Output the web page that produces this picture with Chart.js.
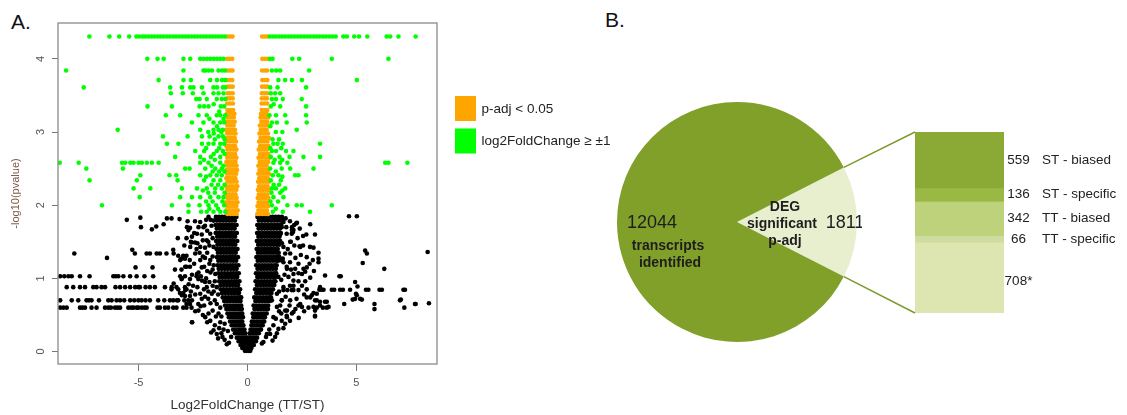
<!DOCTYPE html>
<html>
<head>
<meta charset="utf-8">
<script src="https://cdn.jsdelivr.net/npm/chart.js@4.4.0/dist/chart.umd.min.js"></script>
<style>
  body { margin: 0; background: #fff; width: 1127px; height: 415px; position: relative; overflow: hidden;
         font-family: Arial, "Liberation Sans", sans-serif; }
  canvas { position: absolute; }
  .tag { position: absolute; font-size: 21px; color: #111; line-height: 1; }
</style>
</head>
<body>
<div class="tag" style="left:11px;top:11px">A.</div>
<div class="tag" style="left:605px;top:9px">B.</div>
<canvas id="volcano" width="620" height="415" style="left:0;top:0"></canvas>
<canvas id="pie" width="262" height="250" style="left:600px;top:97px"></canvas>
<canvas id="split" width="297" height="205" style="left:830px;top:120px"></canvas>
<script>
const FONT = 'Arial, "Liberation Sans", sans-serif';
Chart.defaults.font.family = FONT;

// ---- A: volcano plot, rows of [ -log10(p), [log2FC ...] ] ----

// not significant, dense core of the volcano
const blackCore = [
  [1.84, [-1.45,-1.31,-1.17,-1.03,-0.89,-0.76,-0.63,-0.51, 0.46,0.59,0.73,0.87,1.01,1.15,1.29,1.43,1.58]],
  [1.79, [-1.4,-1.26,-1.12,-0.98,-0.84,-0.71,-0.58, 0.52,0.66,0.8,0.94,1.08,1.22,1.36,1.5,1.61]],
  [1.73, [-1.47,-1.33,-1.19,-1.05,-0.91,-0.78,-0.65,-0.5, 0.45,0.58,0.72,0.86,1.0,1.14,1.28,1.42,1.55]],
  [1.68, [-1.41,-1.27,-1.13,-0.99,-0.85,-0.72,-0.59, 0.51,0.65,0.79,0.93,1.07,1.21,1.35,1.49]],
  [1.62, [-1.46,-1.32,-1.18,-1.04,-0.9,-0.77,-0.64,-0.49, 0.44,0.57,0.71,0.85,0.99,1.13,1.27,1.41,1.53]],
  [1.57, [-1.39,-1.25,-1.11,-0.97,-0.83,-0.7,-0.57, 0.5,0.64,0.78,0.92,1.06,1.2,1.34,1.47]],
  [1.51, [-1.44,-1.3,-1.16,-1.02,-0.88,-0.75,-0.62,-0.47, 0.43,0.56,0.7,0.84,0.98,1.12,1.26,1.4,1.5]],
  [1.46, [-1.38,-1.24,-1.1,-0.96,-0.82,-0.69,-0.56, 0.49,0.63,0.77,0.91,1.05,1.19,1.33,1.45]],
  [1.40, [-1.42,-1.28,-1.14,-1.0,-0.86,-0.73,-0.6,-0.46, 0.42,0.55,0.69,0.83,0.97,1.11,1.25,1.39]],
  [1.35, [-1.36,-1.22,-1.08,-0.94,-0.8,-0.67,-0.54, 0.48,0.62,0.76,0.9,1.04,1.18,1.32,1.43]],
  [1.29, [-1.4,-1.26,-1.12,-0.98,-0.84,-0.71,-0.58,-0.44, 0.41,0.54,0.68,0.82,0.96,1.1,1.24,1.37]],
  [1.24, [-1.34,-1.2,-1.06,-0.92,-0.78,-0.65,-0.52, 0.47,0.61,0.75,0.89,1.03,1.17,1.31,1.4]],
  [1.18, [-1.37,-1.23,-1.09,-0.95,-0.81,-0.68,-0.55,-0.42, 0.4,0.53,0.67,0.81,0.95,1.09,1.23,1.34]],
  [1.13, [-1.32,-1.18,-1.04,-0.9,-0.76,-0.63,-0.5, 0.46,0.6,0.74,0.88,1.02,1.16,1.3]],
  [1.07, [-1.34,-1.2,-1.06,-0.92,-0.78,-0.65,-0.52,-0.4, 0.39,0.52,0.66,0.8,0.94,1.08,1.22,1.32]],
  [1.02, [-1.28,-1.14,-1.0,-0.86,-0.72,-0.59,-0.47, 0.45,0.59,0.73,0.87,1.01,1.15,1.27]],
  [0.96, [-1.3,-1.16,-1.02,-0.88,-0.74,-0.61,-0.49,-0.37, 0.37,0.5,0.64,0.78,0.92,1.06,1.2,1.28]],
  [0.91, [-1.24,-1.1,-0.96,-0.82,-0.68,-0.55,-0.43, 0.43,0.57,0.71,0.85,0.99,1.13,1.23]],
  [0.85, [-1.23,-1.09,-0.95,-0.81,-0.67,-0.54,-0.42,-0.34, 0.35,0.48,0.62,0.76,0.9,1.04,1.17]],
  [0.80, [-1.17,-1.03,-0.89,-0.75,-0.62,-0.5,-0.39, 0.4,0.54,0.68,0.82,0.96,1.1]],
  [0.74, [-1.14,-1.0,-0.86,-0.72,-0.59,-0.46,-0.35,-0.29, 0.31,0.44,0.58,0.72,0.86,0.99,1.08]],
  [0.69, [-1.07,-0.94,-0.81,-0.68,-0.55,-0.43,-0.32, 0.36,0.5,0.64,0.78,0.91,1.02]],
  [0.63, [-1.03,-0.9,-0.77,-0.64,-0.52,-0.4,-0.29, 0.28,0.41,0.55,0.69,0.82,0.95]],
  [0.58, [-0.97,-0.84,-0.71,-0.58,-0.46,-0.35,-0.26, 0.32,0.46,0.6,0.73,0.86,0.94]],
  [0.52, [-0.92,-0.79,-0.66,-0.54,-0.42,-0.31,-0.24, 0.24,0.37,0.51,0.64,0.77,0.88]],
  [0.47, [-0.86,-0.73,-0.61,-0.49,-0.38,-0.28,-0.21, 0.27,0.41,0.54,0.67,0.8]],
  [0.41, [-0.8,-0.67,-0.55,-0.44,-0.33,-0.24, 0.2,0.32,0.45,0.58,0.71,0.77]],
  [0.36, [-0.73,-0.61,-0.49,-0.38,-0.28,-0.19, 0.18,0.29,0.41,0.53,0.65,0.7]],
  [0.30, [-0.66,-0.54,-0.43,-0.33,-0.23,-0.14, 0.14,0.24,0.35,0.46,0.57,0.62]],
  [0.25, [-0.58,-0.47,-0.37,-0.27,-0.18,-0.1, 0.1,0.2,0.3,0.41,0.52]],
  [0.19, [-0.49,-0.39,-0.29,-0.2,-0.11,-0.03, 0.06,0.15,0.25,0.35,0.44]],
  [0.14, [-0.41,-0.31,-0.22,-0.13,-0.05, 0.04,0.13,0.22,0.32,0.39]],
  [0.09, [-0.32,-0.23,-0.14,-0.06, 0.02,0.11,0.2,0.29]],
  [0.05, [-0.24,-0.15,-0.07, 0.01,0.09,0.18]],
  [0.01, [-0.12,-0.03,0.06,0.13]]
];

// not significant, the flat bands of repeated p-values at large fold changes
const blackBands = [
  [1.03, [-8.6,-8.41,-8.22,-8.07,-7.69,-7.25,-6.16,-6.05,-5.93,-5.7,-5.39,-5.09,-4.73,-4.33,-3.09, 4.22,4.28]],
  [0.88, [-8.3,-8.0,-7.69,-7.46,-7.08,-6.93,-6.7,-6.54,-6.06,-5.85,-5.62,-5.39,-5.16,-5.01,-4.94,-4.68,-4.48,-4.25,-3.79,-3.48,-3.26,-2.87]],
  [0.845, [3.3,3.41,3.49,3.87,3.98,4.25,4.38,4.71,5.44,5.55,6.06,6.17,7.16,7.23]],
  [0.70, [-8.6,-8.07,-7.77,-7.39,-7.28,-7.16,-6.82,-6.39,-6.24,-6.01,-5.85,-5.66,-5.39,-5.2,-5.01,-4.86,-4.68,-4.48,-4.1,-3.82,-3.56,-3.41,-3.18,-2.9,-2.72]],
  [0.60, [-8.6,-8.45,-8.3,-7.69,-7.58,-7.46,-7.16,-6.93,-6.54,-6.39,-6.27,-6.08,-5.96,-5.85,-5.47,-5.34,-5.24,-5.09,-5.01,-4.86,-4.73,-4.63,-4.13,-4.02,-3.79,-3.64,-3.41,-3.26,-2.95,-2.8,-2.57]]
];

// not significant, loose points as [log2FC, -log10(p)]
const blackScatter = [
  [-7.95,1.34],[-6.45,1.28],[-5.29,1.39],[-5.17,1.34],[-4.63,1.34],[-4.48,1.34],[-4.17,1.34],[-4.02,1.34],
  [-3.72,1.34],[-3.41,1.39],[-5.14,1.15],[-4.36,1.15],[-5.54,1.8],[-4.92,1.83],[-4.89,1.7],[-4.39,1.67],
  [-4.19,1.71],[-3.85,1.74],[-3.7,1.82],[-3.12,1.81],[-3.49,1.82],[-2.75,1.78],[-2.41,1.78],[-2.64,1.69],
  [-2.57,1.49],[-2.41,1.49],[-2.34,1.4],[-3.18,1.31],[-2.95,1.31],[-2.8,1.31],[-3.03,1.27],[-2.87,1.27],
  [-3.33,1.12],[-3.03,1.12],[-2.8,1.16],[-2.64,1.16],[-3.03,0.99],[-2.64,0.99],[-2.26,0.99],[-3.49,0.85],
  [-3.18,0.85],[-2.8,0.85],[-3.1,0.8],[-2.95,0.8],[-2.87,0.76],[-2.64,0.76],[-2.54,0.4],[-2.8,0.65],
  [-2.64,0.65],[-2.26,0.65],[-2.87,1.03],[-2.34,1.03],[-2.14,1.03],
  [-2.71,1.66],[-2.55,1.57],[-2.32,1.61],[-2.17,1.77],[-2.02,1.7],[-1.87,1.52],[-2.17,1.43],[-2.4,1.34],
  [-2.17,1.25],[-1.99,1.16],[-2.32,1.06],[-2.09,0.97],[-1.87,0.88],[-2.17,0.79],[-2.55,0.7],[-2.25,0.56],
  [-1.94,0.47],[-1.71,0.42],[-1.56,0.29],[-1.41,0.24],[-2.55,0.4],[-1.67,0.26],[-1.79,0.52],[-1.99,0.63],
  [-2.86,0.84],[-3.01,0.77],[-3.24,0.7],[-3.39,0.93],[-3.01,1.0],[-3.09,1.25],[-2.86,1.16],[-3.39,1.34],
  [-2.63,1.43],[-2.78,1.7],[-1.71,1.61],[-1.56,1.43],[-1.71,1.25],[-1.48,1.06],[-1.64,0.79],[-1.41,0.65],
  [-1.33,0.52],[-1.25,0.4],[-1.41,0.88],[-1.56,1.79],[-1.79,1.84],[-1.9,1.8],[-1.65,1.72],[-1.85,1.65],
  [-1.6,1.55],[-1.75,1.45],[-1.6,1.3],[-1.85,1.35],[-1.55,1.18],[-1.7,1.08],[-1.5,0.96],[-1.6,0.9],
  [-1.35,0.78],[-1.5,0.7],[-1.25,0.6],[-1.2,0.48],[-1.05,0.38],[-0.9,0.28],[-0.75,0.2],[-1.1,0.3],
  [-0.85,0.12],[-2.05,1.52],[-2.3,1.48],[-1.95,1.28],[-2.0,0.85],[-1.8,0.72],[-2.1,0.72],[-1.9,1.0],
  [-2.45,1.2],[-2.5,0.9],[-1.15,0.2],[-0.95,0.1],
  [-2.8,1.55],[-2.6,1.5],[-2.45,1.62],[-2.25,1.7],[-2.1,1.6],[-1.95,1.72],[-1.7,1.8],[-1.8,1.5],
  [-1.95,1.42],[-2.2,1.35],[-2.05,1.3],[-1.75,1.2],[-1.6,1.12],[-1.85,1.1],[-2.1,1.15],[-2.25,1.08],
  [-1.95,0.95],[-1.75,0.95],[-1.55,0.82],[-1.8,0.82],[-2.3,0.88],[-2.4,0.78],[-1.95,0.75],[-1.7,0.66],
  [-2.15,0.62],[-2.4,0.55],[-1.6,0.56],[-1.45,0.48],[-2.05,0.5],[-1.85,0.4],[-1.5,0.36],[-1.3,0.32],
  [-1.2,0.25],[-1.35,0.18],[-1.05,0.16],[-2.65,1.25],[-2.55,1.05],[-2.7,0.92],[-2.6,0.82],[-3.2,1.55],
  [-2.9,1.45],
  [3.03,1.42],[3.26,1.35],[3.26,1.22],[3.0,1.25],[2.72,1.29],[2.39,1.44],[2.88,1.74],[1.99,1.5],
  [2.27,1.76],[2.14,1.73],[2.04,1.66],[2.72,1.15],[2.65,1.09],[2.5,1.06],[2.34,1.07],[2.88,1.01],
  [2.65,0.96],[2.34,0.96],[2.11,0.9],[3.03,0.8],[2.72,0.85],[2.72,0.74],[2.88,0.74],[2.95,0.77],
  [3.1,0.7],[3.18,0.7],[3.33,0.68],[3.56,0.68],[3.46,0.6],[3.64,0.6],[3.18,0.6],[3.1,0.56],
  [3.1,0.48],[2.42,0.65],[2.5,0.61],[2.34,0.63],[2.11,0.54],[2.04,0.52],[1.81,0.47],[1.73,0.38],
  [1.81,0.56],[1.93,0.63],[1.58,0.7],[1.65,0.84],[1.83,0.84],[2.11,0.84],[2.34,0.84],[2.11,0.97],
  [1.88,1.02],[2.34,1.2],[2.11,1.06],[1.81,1.13],[2.19,1.13],[2.57,1.13],[1.65,1.22],[1.62,1.27],
  [1.73,1.34],[1.58,1.48],[1.96,1.5],[1.78,1.7],[2.04,1.7],[2.08,1.63],[2.23,1.75],[1.65,1.77],
  [1.58,1.82],[1.57,1.7],[1.8,1.61],[2.11,1.66],[1.65,1.43],[1.5,1.25],[1.8,1.16],[1.42,1.02],
  [1.65,0.88],[1.35,0.79],[1.57,0.7],[1.35,0.61],[1.8,0.49],[1.57,0.42],[1.19,0.36],[1.42,0.31],
  [1.04,0.24],[1.27,0.2],[0.73,0.13],[1.96,1.34],[2.03,0.84],[1.96,0.7],[1.73,0.56],[1.19,0.47],
  [1.12,0.7],[1.19,0.93],[1.27,1.16],[0.89,0.24],[0.66,0.11],[1.45,0.55],[1.3,0.45],[1.0,0.3],
  [0.85,0.2],[2.87,1.43],[2.42,1.43],[2.03,1.61],[3.26,1.27],[3.03,0.61],[3.1,0.49],[3.33,0.63],
  [3.64,0.68],[3.72,0.61],[3.18,0.79],[3.33,0.88],
  [1.75,1.82],[1.95,1.78],[2.4,1.68],[2.55,1.58],[2.3,1.55],[2.15,1.45],[1.85,1.4],[2.45,1.32],
  [2.2,1.28],[1.95,1.22],[2.0,1.12],[1.7,1.05],[1.55,0.98],[1.95,0.9],[2.5,0.9],[2.6,0.78],
  [2.25,0.72],[1.75,0.75],[1.45,0.82],[1.5,0.63],[2.2,0.58],[2.6,0.55],[1.95,0.42],[1.65,0.32],
  [1.35,0.25],[1.15,0.15],[1.55,0.52],[2.35,0.46],[2.8,0.6],[2.85,1.2],[3.05,1.1],[2.55,1.45],
  [2.7,1.6],[3.1,1.6],[1.45,1.3],[1.5,1.6],
  [4.66,1.85],[5.02,1.85],[8.27,1.36],[5.4,1.38],[5.48,1.34],[5.29,1.21],[6.28,1.13],[3.56,1.04],
  [5.05,0.89],[5.02,0.77],[4.83,0.71],[4.94,0.72],[5.25,0.71],[7.04,0.71],[4.44,0.65],[5.83,0.65],
  [7.72,0.65],[8.33,0.66],[5.83,0.58],[7.2,0.6],[4.98,0.79],[5.17,0.72],[4.94,0.95],[7.0,0.7],[7.69,0.65]
];

// p-adj < 0.05 with |log2FC| < 1
const orangeRows = [
  [4.305, [-0.92,-0.8,-0.69, 0.67,0.79,0.91]],
  [4.0,  [-0.93,-0.81,-0.7, 0.68,0.8,0.92]],
  [3.84, [-0.92,-0.8,-0.69, 0.67,0.79,0.9]],
  [3.71, [-0.93,-0.81,-0.7, 0.68,0.8,0.91]],
  [3.62, [-0.92,-0.8,-0.68, 0.67,0.79,0.9]],
  [3.53, [-0.91,-0.79,-0.68, 0.66,0.78,0.9]],
  [3.46, [-0.92,-0.8,-0.68, 0.66,0.78,0.89]],
  [3.39, [-0.93,-0.8,-0.67, 0.65,0.77,0.9]],
  [3.30, [-0.92,-0.78,-0.66, 0.66,0.79,0.91]],
  [3.25, [-0.95,-0.82,-0.69,-0.6, 0.62,0.74,0.87]],
  [3.20, [-0.9,-0.76,-0.63, 0.6,0.71,0.84,0.95]],
  [3.14, [-0.97,-0.84,-0.71,-0.59, 0.64,0.77,0.9]],
  [3.09, [-0.92,-0.78,-0.64, 0.57,0.69,0.82,0.96]],
  [3.03, [-0.98,-0.85,-0.72,-0.58, 0.61,0.74,0.88]],
  [2.98, [-0.93,-0.79,-0.65,-0.55, 0.55,0.67,0.8,0.94]],
  [2.92, [-0.99,-0.86,-0.72,-0.59, 0.6,0.73,0.86,0.98]],
  [2.87, [-0.94,-0.8,-0.66,-0.53, 0.53,0.65,0.78,0.92]],
  [2.81, [-0.97,-0.84,-0.7,-0.57, 0.58,0.71,0.84,0.97]],
  [2.76, [-0.92,-0.78,-0.64,-0.51, 0.52,0.64,0.77,0.9]],
  [2.70, [-0.98,-0.85,-0.71,-0.57, 0.57,0.7,0.83,0.96]],
  [2.65, [-0.93,-0.79,-0.65,-0.51, 0.51,0.63,0.76,0.89,0.99]],
  [2.59, [-0.97,-0.83,-0.69,-0.55, 0.56,0.69,0.82,0.95]],
  [2.54, [-0.92,-0.78,-0.64,-0.5, 0.5,0.62,0.75,0.88]],
  [2.48, [-0.98,-0.85,-0.71,-0.57,-0.48, 0.55,0.68,0.81,0.94]],
  [2.43, [-0.94,-0.8,-0.66,-0.52, 0.5,0.61,0.74,0.87,0.99]],
  [2.37, [-0.97,-0.84,-0.7,-0.56, 0.54,0.67,0.8,0.93]],
  [2.32, [-0.92,-0.78,-0.64,-0.5, 0.49,0.6,0.73,0.86,0.98]],
  [2.26, [-0.98,-0.84,-0.7,-0.56,-0.47, 0.53,0.66,0.79,0.92]],
  [2.21, [-0.93,-0.79,-0.65,-0.51, 0.48,0.59,0.72,0.85,0.97]],
  [2.15, [-0.97,-0.83,-0.69,-0.55, 0.52,0.65,0.78,0.91]],
  [2.10, [-0.92,-0.78,-0.64,-0.5, 0.47,0.58,0.71,0.84,0.96]],
  [2.04, [-0.98,-0.84,-0.7,-0.56,-0.46, 0.51,0.64,0.77,0.9]],
  [1.99, [-0.93,-0.79,-0.65,-0.51, 0.46,0.57,0.7,0.83,0.95]],
  [1.93, [-0.97,-0.83,-0.69,-0.55,-0.45, 0.5,0.63,0.76,0.89]],
  [1.88, [-0.92,-0.78,-0.64,-0.5, 0.45,0.56,0.69,0.82,0.94]]
];

// p-adj < 0.05 with |log2FC| >= 1
const greenRows = [
  [4.305, [-7.26,-6.34,-5.89,-5.43,-5.1,-4.97,-4.82,-4.7,-4.55,-4.41,-4.27,-4.12,-3.98,-3.85,-3.7,-3.56,-3.41,-3.28,-3.14,-2.99,-2.85,-2.72,-2.57,-2.43,-2.3,-2.15,-2.01,-1.88,-1.73,-1.6,-1.46,-1.32,-1.18,-1.04,
           1.02,1.16,1.3,1.45,1.59,1.73,1.88,2.02,2.16,2.31,2.45,2.6,2.74,2.88,3.03,3.17,3.31,3.46,3.6,3.75,3.9,4.05,4.4,4.56,4.9,5.12,5.5,6.39,6.55,6.93,7.72]],
  [4.0,  [-4.6,-4.13,-3.85,-2.94,-2.63,-2.17,-2.02,-1.86,-1.71,-1.55,-1.4,-1.25,-1.1, 1.03,1.15,2.06,2.37,3.87,6.47]],
  [3.84, [-8.33,-2.94,-2.02,-1.94,-1.79,-1.63,-1.33,-1.17,-1.04, 1.12,1.32,1.5,2.83]],
  [3.71, [-4.08,-2.94,-2.6,-1.71,-1.4,-1.17,-1.02, 1.42,1.73,2.04,2.5,5.02]],
  [3.61, [-7.52,-3.55,-3.01,-2.63,-2.48,-2.09,-1.56,-1.4,-1.13,-1.02, 1.04,1.38,2.69]],
  [3.53, [-3.52,-2.97,-2.51,-2.02,-1.56,-1.33,-1.1, 1.07,1.27,1.5]],
  [3.45, [-2.35,-2.2,-1.87,-1.41,-1.18,-1.02, 1.12,1.31,1.62,2.49]],
  [3.35, [-4.59,-3.47,-2.2,-1.99,-1.79,-1.22,-1.07, 1.07,1.5,2.69]],
  [3.23, [-3.75,-3.09,-2.25,-1.87,-1.41,-1.25,-1.02, 1.01,1.31,1.73,2.69]],
  [3.13, [-2.55,-2.02,-1.56,-1.25,-1.07, 1.12,1.35,1.8,2.72]],
  [3.03, [-5.96,-2.17,-1.56,-1.33,-1.13, 2.26]],
  [2.94, [-3.88,-2.75,-2.09,-1.74,-1.33,-1.13]],
  [2.84, [-3.7,-3.17,-2.09,-1.79,-1.56,-1.25,-1.07, 1.19,1.38,1.62,3.33]],
  [2.74, [-2.4,-1.99,-1.41,-1.13, 1.12,1.31,1.77,2.11]],
  [2.66, [-3.32,-2.17,-1.68,-1.25, 1.07,1.47,1.93,2.57,3.33]],
  [2.58, [-8.62,-7.75,-5.76,-5.61,-5.38,-5.23,-5.0,-4.85,-4.62,-4.39,-4.08,-2.17,-1.79,-1.25, 1.19,1.5,1.83,6.32,6.47,7.34]],
  [2.50, [-7.4,-5.72,-2.86,-2.66,-1.94,-1.48,-1.18, 1.04,1.57,1.96,3.03]],
  [2.41, [-4.92,-3.58,-3.27,-2.17,-1.71,-1.41,-1.18, 1.16,1.42,2.19,2.34]],
  [2.34, [-7.25,-5.08,-3.21,-1.99,-1.56,-1.25, 1.07,1.53]],
  [2.23, [-5.23,-4.46,-3.01,-2.32,-1.87,-1.48,-1.18, 1.12,1.31,1.73]],
  [2.11, [-4.95,-3.09,-2.55,-2.17,-1.71,-1.33,-1.1, 1.19,1.65]],
  [2.00, [-6.68,-3.47,-2.71,-2.2,-1.79,-1.44,-1.07, 1.12,1.83,2.26,2.49,3.87]],
  [1.91, [-2.71,-2.13,-1.87,-1.56,-1.25,-1.02, 1.16,1.62,2.87]],
  [2.05, [-1.9,-1.6,-1.15, 1.05,1.4]],
  [2.17, [-1.8,-1.5,-1.05, 1.1,1.5]],
  [2.28, [-1.65,-1.35,-1.05, 1.2,1.45]],
  [2.46, [-1.6,-1.3,-1.05, 1.3]],
  [2.54, [-1.65,-1.1]],
  [2.62, [-2.0,-1.5, 1.25,1.6]],
  [2.70, [-1.55,-1.05]],
  [2.78, [-1.9,-1.3, 1.05,1.55]],
  [2.90, [-1.5,-1.05, 1.15,1.45]],
  [2.98, [-1.55]],
  [3.00, [-1.8,-1.2, 1.3,1.6]],
  [3.08, [-1.4, 1.05]],
  [3.18, [-1.75,-1.1]],
  [3.28, [-1.3]],
  [3.38, [-1.55, 1.2]],
  [1.95, [-1.75,-1.35, 1.3]],
  [2.20, [-2.05, 1.6]],
  [2.39, [-1.9, 1.6]]
];

const legendLabels = ['p-adj < 0.05', 'log2FoldChange \u2265 \u00b11'];
const xTicks = [-5, 0, 5];
const yTicks = [0, 1, 2, 3, 4];

// ---- B: DEG share of all transcripts, and the DEG split ----
const totalTranscripts = 12044;
const degTotal = 1811;
const pieColors = ['#e8efcf', '#80a02a'];

const degGroups = ['ST - biased', 'ST - specific', 'TT - biased', 'TT - specific', ''];
const degCounts = [559, 136, 342, 66, 708];
const degNotes = ['', '', '', '', '*'];
const degColors = ['#8aa935', '#9ab844', '#bed17b', '#cfdc9f', '#dde6b1'];

const rowsToPoints = rows => rows.flatMap(([y, xs]) => xs.map(x => ({ x, y })));
const pairsToPoints = pairs => pairs.map(([x, y]) => ({ x, y }));

function dots(label, data, color) {
  return { label, data, backgroundColor: color, borderWidth: 0, pointRadius: 2.3, pointHoverRadius: 2.3 };
}

// box round the plot area, like R's box()
const frame = {
  id: 'frame',
  afterDatasetsDraw(chart) {
    const { ctx, chartArea: a } = chart;
    ctx.save();
    ctx.strokeStyle = '#8a8a8a';
    ctx.lineWidth = 1.3;
    ctx.strokeRect(a.left, a.top, a.right - a.left, a.bottom - a.top);
    ctx.restore();
  }
};

// legend off to the right of the plot
const sideLegend = {
  id: 'sideLegend',
  afterDraw(chart) {
    const { ctx, chartArea: a } = chart;
    const sets = [chart.data.datasets[1], chart.data.datasets[0]];
    ctx.save();
    ctx.font = '13.5px ' + FONT;
    ctx.textBaseline = 'middle';
    sets.forEach((ds, i) => {
      const top = a.top + 73 + i * 32.5;
      ctx.fillStyle = ds.backgroundColor;
      ctx.fillRect(a.right + 18, top, 21, 25);
      ctx.fillStyle = '#222';
      ctx.fillText(legendLabels[i], a.right + 44.5, top + 13);
    });
    ctx.restore();
  }
};

new Chart(document.getElementById('volcano'), {
  type: 'scatter',
  data: {
    datasets: [
      dots('green', rowsToPoints(greenRows), '#00ff00'),
      dots('orange', rowsToPoints(orangeRows), '#ffa500'),
      dots('ns', rowsToPoints(blackCore).concat(rowsToPoints(blackBands), pairsToPoints(blackScatter)), '#000000')
    ]
  },
  options: {
    responsive: false,
    animation: false,
    devicePixelRatio: 1,
    layout: { padding: { left: 0, top: 23, right: 183, bottom: 0 } },
    plugins: { legend: { display: false }, tooltip: { enabled: false } },
    scales: {
      x: {
        type: 'linear', min: -8.7, max: 8.7,
        border: { display: false },
        grid: { drawOnChartArea: false, tickLength: 7, color: '#777' },
        afterBuildTicks: s => { s.ticks = xTicks.map(v => ({ value: v })); },
        ticks: { color: '#555', font: { size: 11 }, padding: 5 },
        title: { display: true, text: 'Log2FoldChange (TT/ST)', color: '#333', font: { size: 13.5 }, padding: { top: 0, bottom: 2 } },
        afterFit: s => { s.height = 51; }
      },
      y: {
        type: 'linear', min: -0.17, max: 4.49,
        border: { display: false },
        grid: { drawOnChartArea: false, tickLength: 6, color: '#777' },
        afterBuildTicks: s => { s.ticks = yTicks.map(v => ({ value: v })); },
        ticks: { color: '#555', font: { size: 11 }, padding: 8, minRotation: 90, maxRotation: 90, crossAlign: 'center' },
        title: { display: true, text: '-log10(pvalue)', color: '#7d5846', font: { size: 11 }, padding: { top: 9.4, bottom: 0 } },
        afterFit: s => { s.width = 58; }
      }
    }
  },
  plugins: [frame, sideLegend]
});

// ---- B: pie ----
const pieText = {
  id: 'pieText',
  afterDatasetsDraw(chart) {
    const arc = chart.getDatasetMeta(0).data[0];
    const cx = arc.x, cy = arc.y;
    const ctx = chart.ctx;
    ctx.save();
    ctx.fillStyle = '#1e1e1e';
    ctx.textAlign = 'center';
    ctx.textBaseline = 'middle';
    ctx.font = '18px ' + FONT;
    ctx.fillText(String(totalTranscripts), cx - 85, cy + 1);
    ctx.fillText(String(degTotal), cx + 108, cy + 1);
    ctx.font = 'bold 14px ' + FONT;
    ctx.fillText('transcripts', cx - 69, cy + 24);
    ctx.fillText('identified', cx - 67, cy + 41);
    ctx.fillText('DEG', cx + 48, cy - 14.5);
    ctx.fillText('significant', cx + 45, cy + 2);
    ctx.fillText('p-adj', cx + 48, cy + 19);
    ctx.restore();
  }
};

const pieChart = new Chart(document.getElementById('pie'), {
  type: 'pie',
  data: {
    labels: ['DEG significant p-adj', 'other transcripts'],
    datasets: [{ data: [degTotal, totalTranscripts - degTotal], backgroundColor: pieColors, borderWidth: 0 }]
  },
  options: {
    responsive: false,
    animation: false,
    devicePixelRatio: 1,
    // centre the DEG slice on the right-hand side
    rotation: 90 - degTotal / totalTranscripts * 180,
    layout: { padding: { left: 17, right: 5, top: 5, bottom: 5 } },
    plugins: { legend: { display: false }, tooltip: { enabled: false } }
  },
  plugins: [pieText]
});

// ---- B: stacked bar for the DEG split, with the zoom lines back to the pie ----
const splitLabels = {
  id: 'splitLabels',
  afterDatasetsDraw(chart) {
    const { ctx, chartArea: a } = chart;
    ctx.save();
    ctx.fillStyle = '#222';
    ctx.textBaseline = 'middle';
    ctx.font = '13.5px ' + FONT;
    chart.data.datasets.forEach((ds, i) => {
      const bar = chart.getDatasetMeta(i).data[0];
      // the unlabelled remainder sits its count a little low
      const mid = (bar.y + bar.base) / 2 + (degGroups[i] ? 0 : 4);
      ctx.textAlign = 'center';
      ctx.fillText(degCounts[i] + degNotes[i], a.right + 14.5, mid);
      ctx.textAlign = 'left';
      ctx.fillText(degGroups[i], a.right + 38, mid);
    });
    ctx.restore();
  }
};

const zoomLines = {
  id: 'zoomLines',
  afterDraw(chart) {
    const { ctx, chartArea: a } = chart;
    const arc = pieChart.getDatasetMeta(0).data[0];
    const pc = pieChart.canvas, bc = chart.canvas;
    const dx = pc.offsetLeft - bc.offsetLeft, dy = pc.offsetTop - bc.offsetTop;
    const r = arc.outerRadius;
    const p1 = [arc.x + dx + r * Math.cos(arc.startAngle), arc.y + dy + r * Math.sin(arc.startAngle)];
    const p2 = [arc.x + dx + r * Math.cos(arc.endAngle), arc.y + dy + r * Math.sin(arc.endAngle)];
    ctx.save();
    ctx.strokeStyle = '#7d9b2c';
    ctx.lineWidth = 1.5;
    ctx.beginPath();
    ctx.moveTo(p1[0], p1[1]); ctx.lineTo(a.left, a.top);
    ctx.moveTo(p2[0], p2[1]); ctx.lineTo(a.left, a.bottom);
    ctx.stroke();
    ctx.restore();
  }
};

new Chart(document.getElementById('split'), {
  type: 'bar',
  data: {
    labels: ['DEG'],
    datasets: degCounts.map((v, i) => ({
      label: degGroups[i], data: [v], backgroundColor: degColors[i],
      borderWidth: 0, barPercentage: 1, categoryPercentage: 1
    }))
  },
  options: {
    responsive: false,
    animation: false,
    devicePixelRatio: 1,
    layout: { padding: { left: 85, right: 123, top: 12, bottom: 12 } },
    plugins: { legend: { display: false }, tooltip: { enabled: false } },
    scales: {
      x: { stacked: true, display: false },
      y: { stacked: true, display: false, reverse: true, min: 0, max: degTotal }
    }
  },
  plugins: [splitLabels, zoomLines]
});
</script>
</body>
</html>
